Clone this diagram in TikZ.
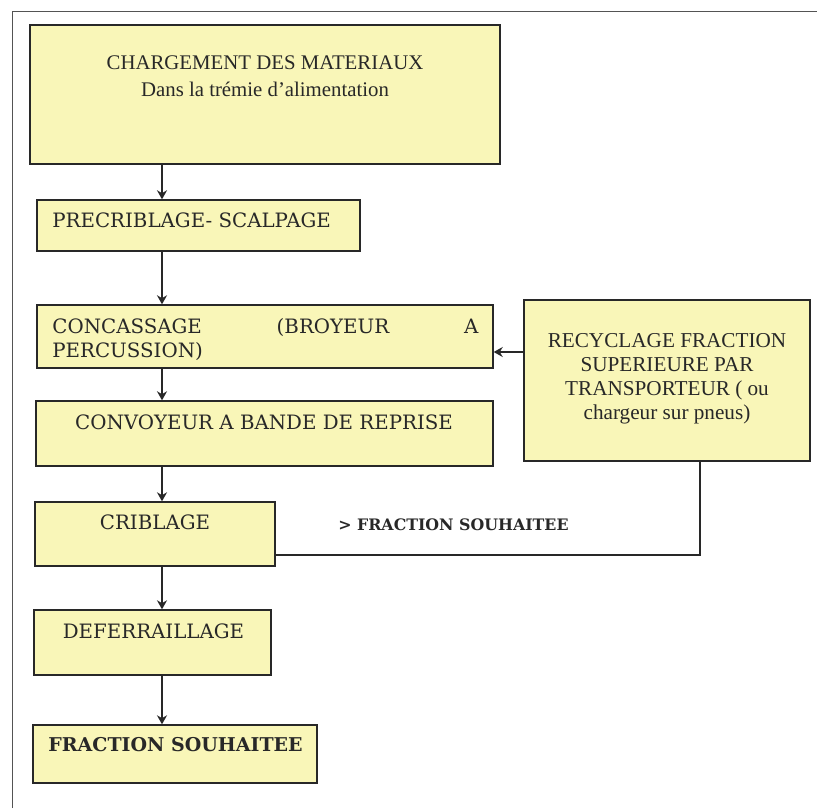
\documentclass[tikz,border=0pt]{standalone}
\usepackage{fontspec}
\setmainfont{Liberation Serif}
\newfontfamily\bkfont{DejaVu Serif}
\usepackage{tikz}
\usetikzlibrary{positioning,arrows.meta}
\definecolor{boxfill}{RGB}{249,246,184}
\definecolor{ink}{RGB}{40,40,40}
\tikzstyle{box} = [draw=ink,line width=0.7pt,fill=boxfill,rectangle,inner sep=0pt]
\tikzstyle{arrow} = [draw=ink,line width=1pt,-{Stealth[length=4.5pt,width=5pt]}]
\tikzstyle{bk} = [font=\bkfont\fontsize{9.9}{12}\selectfont,text=ink,inner sep=0pt]
\tikzstyle{tm} = [font=\fontsize{10.4}{13.5}\selectfont,text=ink,inner sep=0pt,align=center]

\begin{document}
\begin{tikzpicture}[x=0.5pt,y=-0.5pt]
    \useasboundingbox (0,0) rectangle (817,808);
    \fill[white] (0,0) rectangle (817,808);
    \draw[ink!80,line width=0.5pt] (12,808) -- (12,12) -- (817,12);

    \node[box,minimum width=235pt,minimum height=69.5pt] (charg) at (265,94.5) {};
    \node[box,minimum width=161.5pt,minimum height=25.5pt] (precr) at (198.5,225.5) {};
    \node[box,minimum width=228pt,minimum height=31.5pt] (conc) at (265,336.5) {};
    \node[box,minimum width=228.5pt,minimum height=32.5pt] (conv) at (264.5,433.5) {};
    \node[box,minimum width=120pt,minimum height=32pt] (crib) at (155,534) {};
    \node[box,minimum width=118.5pt,minimum height=32.5pt] (defer) at (152.5,642.5) {};
    \node[box,minimum width=142pt,minimum height=29pt] (fract) at (175,754) {};
    \node[box,minimum width=143pt,minimum height=80.5pt] (recyc) at (667,380.5) {};

    \node[tm] (chargT) at (265,76.5) {CHARGEMENT DES MATERIAUX\\Dans la trémie d’alimentation};
    \node[bk,anchor=west] (precrT) at (52,220) {PRECRIBLAGE- SCALPAGE};
    \node[bk,anchor=north west,text width=213pt,align=left] (concT) at (52,318) {CONCASSAGE\hfill(BROYEUR\hfill A\\PERCUSSION)};
    \node[bk] (convT) at (264,422.5) {CONVOYEUR A BANDE DE REPRISE};
    \node[bk] (cribT) at (155,522.5) {CRIBLAGE};
    \node[bk] (deferT) at (153.5,631) {DEFERRAILLAGE};
    \node[bk,font=\bkfont\bfseries\fontsize{9.5}{12}\selectfont] (fractT) at (175.5,744.5) {FRACTION SOUHAITEE};
    \node[tm,font=\fontsize{10.6}{12}\selectfont] (recycT) at (667,379) {RECYCLAGE FRACTION\\SUPERIEURE PAR\\TRANSPORTEUR ( ou\\chargeur sur pneus)};
    \node[bk,font=\bkfont\bfseries\fontsize{7.9}{10}\selectfont,anchor=west] (souh) at (338,525) {> FRACTION SOUHAITEE};

    \coordinate (ax) at (162,0);
    \draw[arrow] (ax |- charg.south) -- (ax |- precr.north);
    \draw[arrow] (ax |- precr.south) -- (ax |- conc.north);
    \draw[arrow] (ax |- conc.south) -- (ax |- conv.north);
    \draw[arrow] (ax |- conv.south) -- (ax |- crib.north);
    \draw[arrow] (ax |- crib.south) -- (ax |- defer.north);
    \draw[arrow] (ax |- defer.south) -- (ax |- fract.north);
    \draw[arrow] (recyc.west |- 0,352) -- (conc.east |- 0,352);
    \draw[ink,line width=1.2pt] (crib.east |- 0,555) -| (recyc.south -| 700,0);
\end{tikzpicture}
\end{document}
